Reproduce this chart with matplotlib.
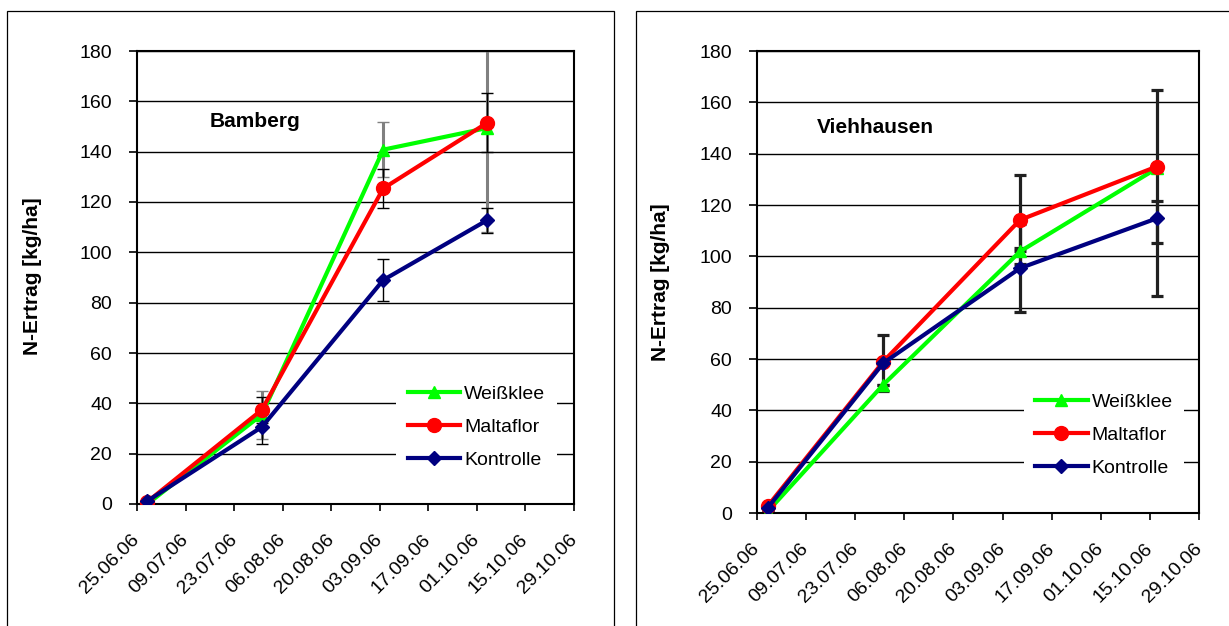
import numpy as np
import matplotlib
matplotlib.use("Agg")
import matplotlib.pyplot as plt
import matplotlib.dates as mdates
from matplotlib.patches import Rectangle

plt.rcParams["font.family"] = ["Liberation Sans", "DejaVu Sans"]

# --- data ---
series_names = ["Weißklee", "Maltaflor", "Kontrolle"]

dates_bamberg = np.array(["2006-06-28", "2006-07-31", "2006-09-04", "2006-10-04"], dtype="datetime64[D]")
weiss_b = [0.0, 35.5, 140.8, 149.4]
malta_b = [0.9, 37.4, 125.4, 151.5]
kontr_b = [1.2, 30.6, 89.0, 112.8]
weiss_b_err = [0.0, 9.5, 11.0, 41.5]
malta_b_err = [0.0, 5.3, 7.6, 11.7]
kontr_b_err = [0.0, 6.8, 8.5, 5.0]

dates_vieh = np.array(["2006-06-28", "2006-07-31", "2006-09-08", "2006-10-17"], dtype="datetime64[D]")
weiss_v = [0.5, 50.0, 101.9, 134.3]
malta_v = [2.6, 59.0, 114.2, 135.0]
kontr_v = [1.9, 58.4, 95.4, 114.8]
weiss_v_lo = [0.0, 0.0, 0.0, 0.0]
weiss_v_hi = [0.0, 0.0, 1.3, 0.0]
malta_v_lo = [0.0, 0.0, 17.3, 29.9]
malta_v_hi = [0.0, 0.0, 17.3, 29.8]
kontr_v_lo = [0.0, 10.8, 17.2, 30.1]
kontr_v_hi = [0.0, 10.9, 17.3, 6.8]

tick_dates = np.arange(np.datetime64("2006-06-25"), np.datetime64("2006-10-30"), 14)

colors = ["#00ff00", "#ff0000", "#000080"]
markers = ["^", "o", "D"]
msizes = [9, 10, 7.5]

W, H = 1229, 626
fig = plt.figure(figsize=(W / 100, H / 100), dpi=100)

# chart-area frames
fig.add_artist(Rectangle((7 / W, -0.1), (614 - 7) / W, 1.1 - 11 / H,
                         transform=fig.transFigure, fill=False, ec="black", lw=0.9))
fig.add_artist(Rectangle((636 / W, -0.1), 0.6, 1.1 - 11 / H,
                         transform=fig.transFigure, fill=False, ec="black", lw=0.9))

ax1 = fig.add_axes([137 / W, 1 - 504 / H, 437 / W, 453 / H])
ax2 = fig.add_axes([757 / W, 1 - 513 / H, 442 / W, 462 / H])


def style(ax):
    ax.set_ylim(0, 180)
    ax.set_yticks(np.arange(0, 181, 20))
    ax.set_xlim(tick_dates[0], tick_dates[-1])
    ax.set_xticks(tick_dates)
    ax.xaxis.set_major_formatter(mdates.DateFormatter("%d.%m.%y"))
    ax.yaxis.grid(True, color="black", lw=1.0)
    ax.set_axisbelow(True)
    for s in ax.spines.values():
        s.set_color("black")
        s.set_linewidth(1.5)
    ax.tick_params(axis="y", direction="out", length=6, width=1.2, labelsize=14, pad=12)
    ax.tick_params(axis="x", direction="out", length=5, width=1.2, labelsize=14, pad=19)
    for lbl in ax.get_xticklabels():
        lbl.set_rotation(45)
        lbl.set_rotation_mode("anchor")
        lbl.set_ha("right")
        lbl.set_va("center")


# --- Bamberg ---
style(ax1)
for vals, err, ec, elw in zip([weiss_b, malta_b, kontr_b],
                              [weiss_b_err, malta_b_err, kontr_b_err],
                              ["#808080", "black", "black"], [2.2, 1.0, 1.0]):
    ax1.errorbar(dates_bamberg, vals, yerr=err, fmt="none", ecolor=ec,
                 elinewidth=elw, capsize=4.5, capthick=1.0, zorder=2)
for vals, name, c, m, ms in zip([weiss_b, malta_b, kontr_b], series_names, colors, markers, msizes):
    ax1.plot(dates_bamberg, vals, color=c, lw=3, marker=m, ms=ms, label=name, zorder=3)
ax1.text(0.167, 0.845, "Bamberg", transform=ax1.transAxes, fontsize=15,
         fontweight="bold", ha="left", va="center")
ax1.legend(loc="center", bbox_to_anchor=(0.777, 0.17), frameon=True, facecolor="white",
           edgecolor="none", framealpha=1, fancybox=False, fontsize=14, handlelength=2.7,
           handletextpad=0.2, labelspacing=0.8, borderpad=0.6)

# --- Viehhausen ---
style(ax2)
for vals, lo, hi in zip([weiss_v, malta_v, kontr_v],
                        [weiss_v_lo, malta_v_lo, kontr_v_lo],
                        [weiss_v_hi, malta_v_hi, kontr_v_hi]):
    ax2.errorbar(dates_vieh, vals, yerr=[lo, hi], fmt="none", ecolor="#202020",
                 elinewidth=2.3, capsize=4.5, capthick=2.3, zorder=2)
for vals, name, c, m, ms in zip([weiss_v, malta_v, kontr_v], series_names, colors, markers, msizes):
    ax2.plot(dates_vieh, vals, color=c, lw=3, marker=m, ms=ms, label=name, zorder=3)
ax2.text(0.136, 0.835, "Viehhausen", transform=ax2.transAxes, fontsize=15,
         fontweight="bold", ha="left", va="center")
ax2.legend(loc="center", bbox_to_anchor=(0.785, 0.169), frameon=True, facecolor="white",
           edgecolor="none", framealpha=1, fancybox=False, fontsize=14, handlelength=2.7,
           handletextpad=0.2, labelspacing=0.8, borderpad=0.6)

# y labels
fig.text(33 / W, 1 - 276 / H, "N-Ertrag [kg/ha]", rotation=90, fontsize=15,
         fontweight="bold", ha="center", va="center")
fig.text(661 / W, 1 - 282 / H, "N-Ertrag [kg/ha]", rotation=90, fontsize=15,
         fontweight="bold", ha="center", va="center")

fig.savefig("out.png", dpi=100)
